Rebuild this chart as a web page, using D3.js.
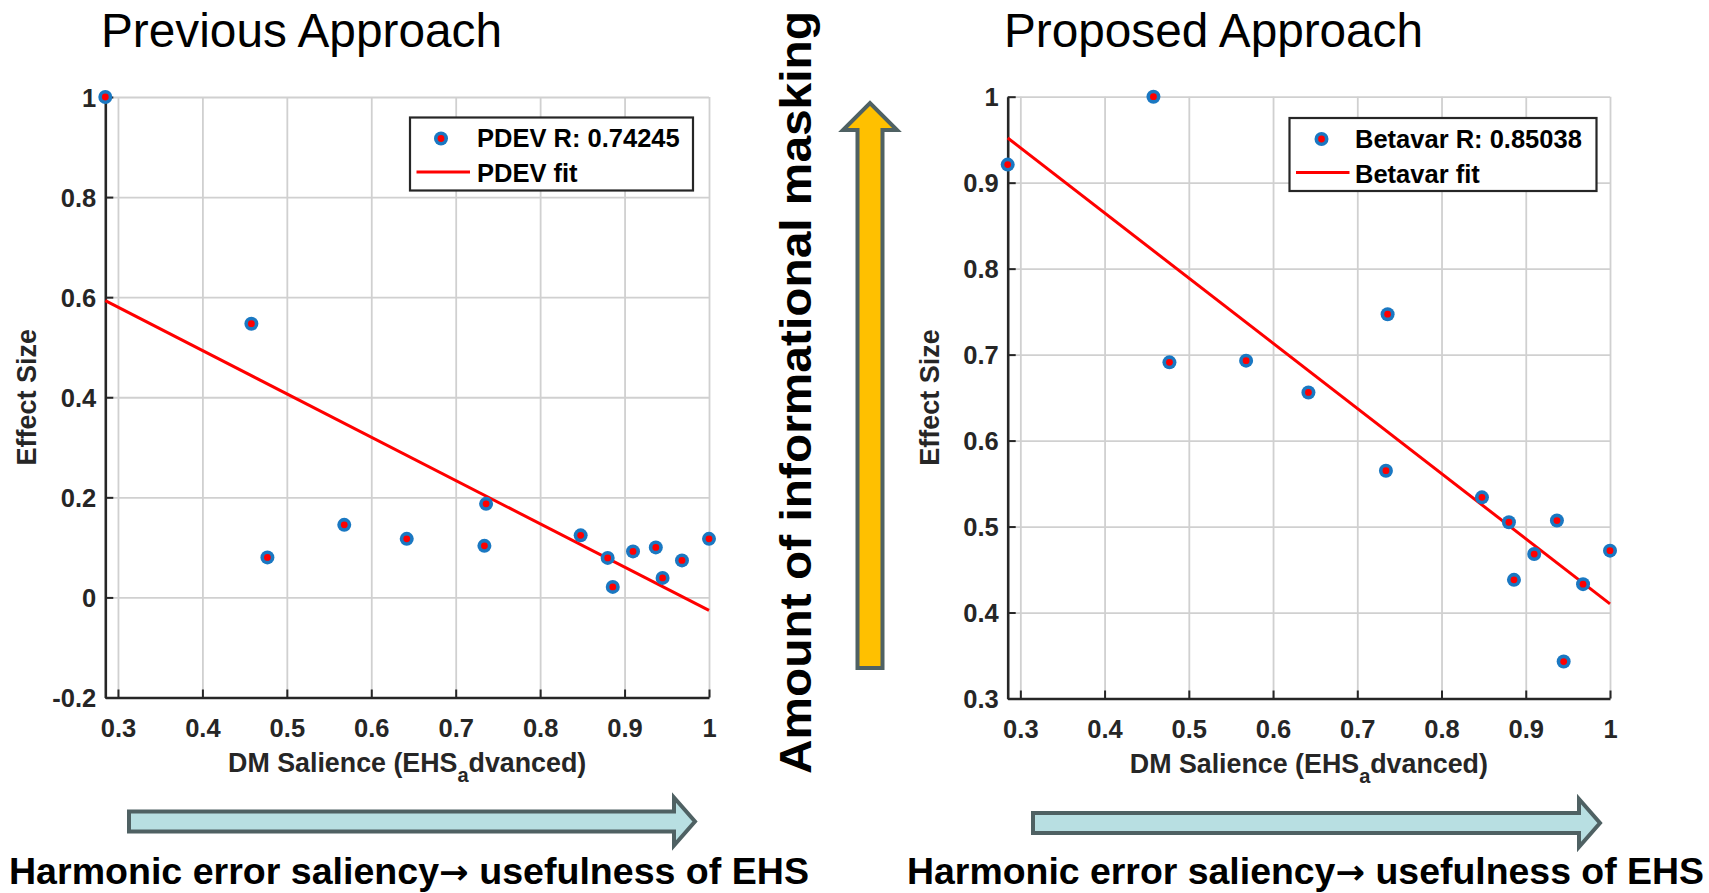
<!DOCTYPE html>
<html>
<head>
<meta charset="utf-8">
<script src="https://cdn.jsdelivr.net/npm/d3@7"></script>
<style>
  html, body { margin: 0; padding: 0; background: #fff; }
  svg { display: block; font-family: "Liberation Sans", Arial, Helvetica, sans-serif; }
</style>
</head>
<body>
<svg id="chart"></svg>
<script>
// DM salience values (shared by both panels)
const salience = [0.285, 0.458, 0.477, 0.568, 0.642, 0.734, 0.736, 0.848, 0.880, 0.886, 0.910, 0.937, 0.945, 0.968, 1.0];
// effect sizes, previous approach (PDEV)
const pdevEffect = [1.0, 0.547, 0.080, 0.145, 0.117, 0.103, 0.187, 0.124, 0.079, 0.021, 0.092, 0.100, 0.039, 0.074, 0.117];
// effect sizes, proposed approach (Betavar)
const betavarEffect = [0.921, 1.0, 0.691, 0.693, 0.656, 0.565, 0.747, 0.534, 0.505, 0.438, 0.468, 0.507, 0.343, 0.433, 0.472];

// fitted lines, read at both ends of the x range
const fitX = [0.285, 1.0];
const pdevFitY = [0.593, -0.026];
const betavarFitY = [0.952, 0.410];

const xTicks = [0.3, 0.4, 0.5, 0.6, 0.7, 0.8, 0.9, 1];
const pdevYTicks = [-0.2, 0, 0.2, 0.4, 0.6, 0.8, 1];
const betavarYTicks = [0.3, 0.4, 0.5, 0.6, 0.7, 0.8, 0.9, 1];

const width = 1709;
const height = 893;

const svg = d3.select("#chart")
  .attr("width", width)
  .attr("height", height);

const axisColor = "#262626";

function marker(sel) {
  sel.append("circle").attr("r", 7).attr("fill", "#1a78c2");
  sel.append("circle").attr("r", 3.4).attr("fill", "#ff0000");
}

function drawPanel(cfg) {
  const x = d3.scaleLinear().domain([0.285, 1]).range([cfg.left, cfg.right]);
  const y = d3.scaleLinear().domain(cfg.yDomain).range([cfg.bottom, cfg.top]);
  const g = svg.append("g");

  // grid
  g.append("g")
    .attr("transform", `translate(0,${cfg.bottom})`)
    .call(d3.axisBottom(x).tickValues(xTicks).tickSize(-(cfg.bottom - cfg.top)).tickFormat(""))
    .call(s => s.select(".domain").remove())
    .call(s => s.selectAll("line").attr("stroke", "#d0d0d0").attr("stroke-width", 1.8));
  g.append("g")
    .attr("transform", `translate(${cfg.left},0)`)
    .call(d3.axisLeft(y).tickValues(cfg.yTicks).tickSize(-(cfg.right - cfg.left)).tickFormat(""))
    .call(s => s.select(".domain").remove())
    .call(s => s.selectAll("line").attr("stroke", "#d0d0d0").attr("stroke-width", 1.8));

  // axes (ticks pointing inward, like matlab)
  const ax = g.append("g")
    .attr("transform", `translate(0,${cfg.bottom})`)
    .call(d3.axisBottom(x).tickValues(xTicks).tickSizeInner(-8).tickSizeOuter(0).tickPadding(21)
      .tickFormat(d => String(d)));
  const ay = g.append("g")
    .attr("transform", `translate(${cfg.left},0)`)
    .call(d3.axisLeft(y).tickValues(cfg.yTicks).tickSizeInner(-8).tickSizeOuter(0).tickPadding(9)
      .tickFormat(d => String(d)));
  [ax, ay].forEach(a => {
    a.select(".domain").attr("stroke", axisColor).attr("stroke-width", 2.6);
    a.selectAll("line").attr("stroke", axisColor).attr("stroke-width", 2);
    a.selectAll("text").attr("fill", axisColor).attr("font-size", 25.5)
      .attr("font-weight", "bold").attr("font-family", "Liberation Sans, Arial, sans-serif");
  });
  ay.selectAll("text").attr("dy", "0.36em");

  // fit line
  const line = d3.line().x(d => x(d[0])).y(d => y(d[1]));
  g.append("path")
    .datum(d3.zip(fitX, cfg.fitY))
    .attr("d", line)
    .attr("fill", "none")
    .attr("stroke", "#ff0000")
    .attr("stroke-width", 3);

  // points
  g.append("g").selectAll("g")
    .data(d3.zip(salience, cfg.effect))
    .join("g")
    .attr("transform", d => `translate(${x(d[0])},${y(d[1])})`)
    .call(marker);

  // axis labels
  g.append("text")
    .attr("transform", `translate(${cfg.left - 69},${(cfg.top + cfg.bottom) / 2}) rotate(-90)`)
    .attr("text-anchor", "middle")
    .attr("font-size", 27).attr("font-weight", "bold").attr("fill", axisColor)
    .text("Effect Size");

  const xl = g.append("text")
    .attr("x", (cfg.left + cfg.right) / 2)
    .attr("y", cfg.bottom + 74)
    .attr("text-anchor", "middle")
    .attr("font-size", 26.8).attr("font-weight", "bold").attr("fill", axisColor);
  xl.append("tspan").text("DM Salience (EHS");
  xl.append("tspan").attr("dy", 10).attr("font-size", 20).text("a");
  xl.append("tspan").attr("dy", -10).text("dvanced)");

  // legend
  const lg = g.append("g").attr("transform", `translate(${cfg.legend.x},${cfg.legend.y})`);
  lg.append("rect")
    .attr("width", cfg.legend.w).attr("height", 73)
    .attr("fill", "#fff").attr("stroke", axisColor).attr("stroke-width", 2.2);
  lg.append("g").attr("transform", `translate(${cfg.legend.markX},21)`).call(marker);
  lg.append("line")
    .attr("x1", 6.5).attr("x2", 60).attr("y1", 54.5).attr("y2", 54.5)
    .attr("stroke", "#ff0000").attr("stroke-width", 3);
  lg.append("text").attr("x", cfg.legend.textX).attr("y", 29.5)
    .attr("font-size", 25.5).attr("font-weight", "bold").attr("fill", "#000")
    .text(cfg.legend.label1);
  lg.append("text").attr("x", cfg.legend.textX).attr("y", 64.5)
    .attr("font-size", 25.5).attr("font-weight", "bold").attr("fill", "#000")
    .text(cfg.legend.label2);

  // title
  svg.append("text")
    .attr("x", cfg.title.x).attr("y", 47)
    .attr("font-size", 48).attr("fill", "#000")
    .attr("textLength", cfg.title.w).attr("lengthAdjust", "spacingAndGlyphs")
    .text(cfg.title.text);
}

drawPanel({
  left: 105.3, right: 709, top: 97, bottom: 697.5,
  yDomain: [-0.2, 1], yTicks: pdevYTicks,
  effect: pdevEffect, fitY: pdevFitY,
  legend: { x: 410, y: 117.5, w: 283, markX: 31, textX: 67,
    label1: "PDEV R: 0.74245", label2: "PDEV fit" },
  title: { x: 101, w: 401, text: "Previous Approach" }
});

drawPanel({
  left: 1007.7, right: 1610, top: 96.7, bottom: 698.5,
  yDomain: [0.3, 1], yTicks: betavarYTicks,
  effect: betavarEffect, fitY: betavarFitY,
  legend: { x: 1289.5, y: 118, w: 307, markX: 32, textX: 65.5,
    label1: "Betavar R: 0.85038", label2: "Betavar fit" },
  title: { x: 1004, w: 419, text: "Proposed Approach" }
});

// horizontal arrows under the panels
function hArrow(x0, x1, cy) {
  const bh = 10, hh = 24, hl = 21;
  const p = d3.path();
  p.moveTo(x0, cy - bh);
  p.lineTo(x1 - hl, cy - bh);
  p.lineTo(x1 - hl, cy - hh);
  p.lineTo(x1, cy);
  p.lineTo(x1 - hl, cy + hh);
  p.lineTo(x1 - hl, cy + bh);
  p.lineTo(x0, cy + bh);
  p.closePath();
  svg.append("path").attr("d", p.toString())
    .attr("fill", "#b8dfe2").attr("stroke", "#4f6163").attr("stroke-width", 4);
}
hArrow(129, 695, 821.5);
hArrow(1033, 1600, 823);

// vertical arrow in the middle
(function () {
  const cx = 870, top = 103, bot = 668, bw = 12.5, hw = 27, hl = 27;
  const p = d3.path();
  p.moveTo(cx - bw, bot);
  p.lineTo(cx - bw, top + hl);
  p.lineTo(cx - hw, top + hl);
  p.lineTo(cx, top);
  p.lineTo(cx + hw, top + hl);
  p.lineTo(cx + bw, top + hl);
  p.lineTo(cx + bw, bot);
  p.closePath();
  svg.append("path").attr("d", p.toString())
    .attr("fill", "#ffc000").attr("stroke", "#4f6163").attr("stroke-width", 4);
})();

svg.append("text")
  .attr("transform", "translate(811,392.5) rotate(-90)")
  .attr("text-anchor", "middle")
  .attr("font-size", 45).attr("font-weight", "bold").attr("fill", "#000")
  .attr("textLength", 763).attr("lengthAdjust", "spacingAndGlyphs")
  .text("Amount of informational masking");

// bottom captions
const captions = [
  { x: 9, w: 800 },
  { x: 907, w: 797 }
];
svg.selectAll("text.caption")
  .data(captions)
  .join("text")
  .attr("class", "caption")
  .attr("x", d => d.x).attr("y", 884)
  .attr("font-size", 36).attr("font-weight", "bold").attr("fill", "#000")
  .attr("textLength", d => d.w).attr("lengthAdjust", "spacingAndGlyphs")
  .each(function () {
    const t = d3.select(this);
    t.append("tspan").text("Harmonic error saliency");
    t.append("tspan").attr("font-family", "DejaVu Sans").attr("font-size", 34).text("\u2192");
    t.append("tspan").text(" usefulness of EHS");
  });
</script>
</body>
</html>
